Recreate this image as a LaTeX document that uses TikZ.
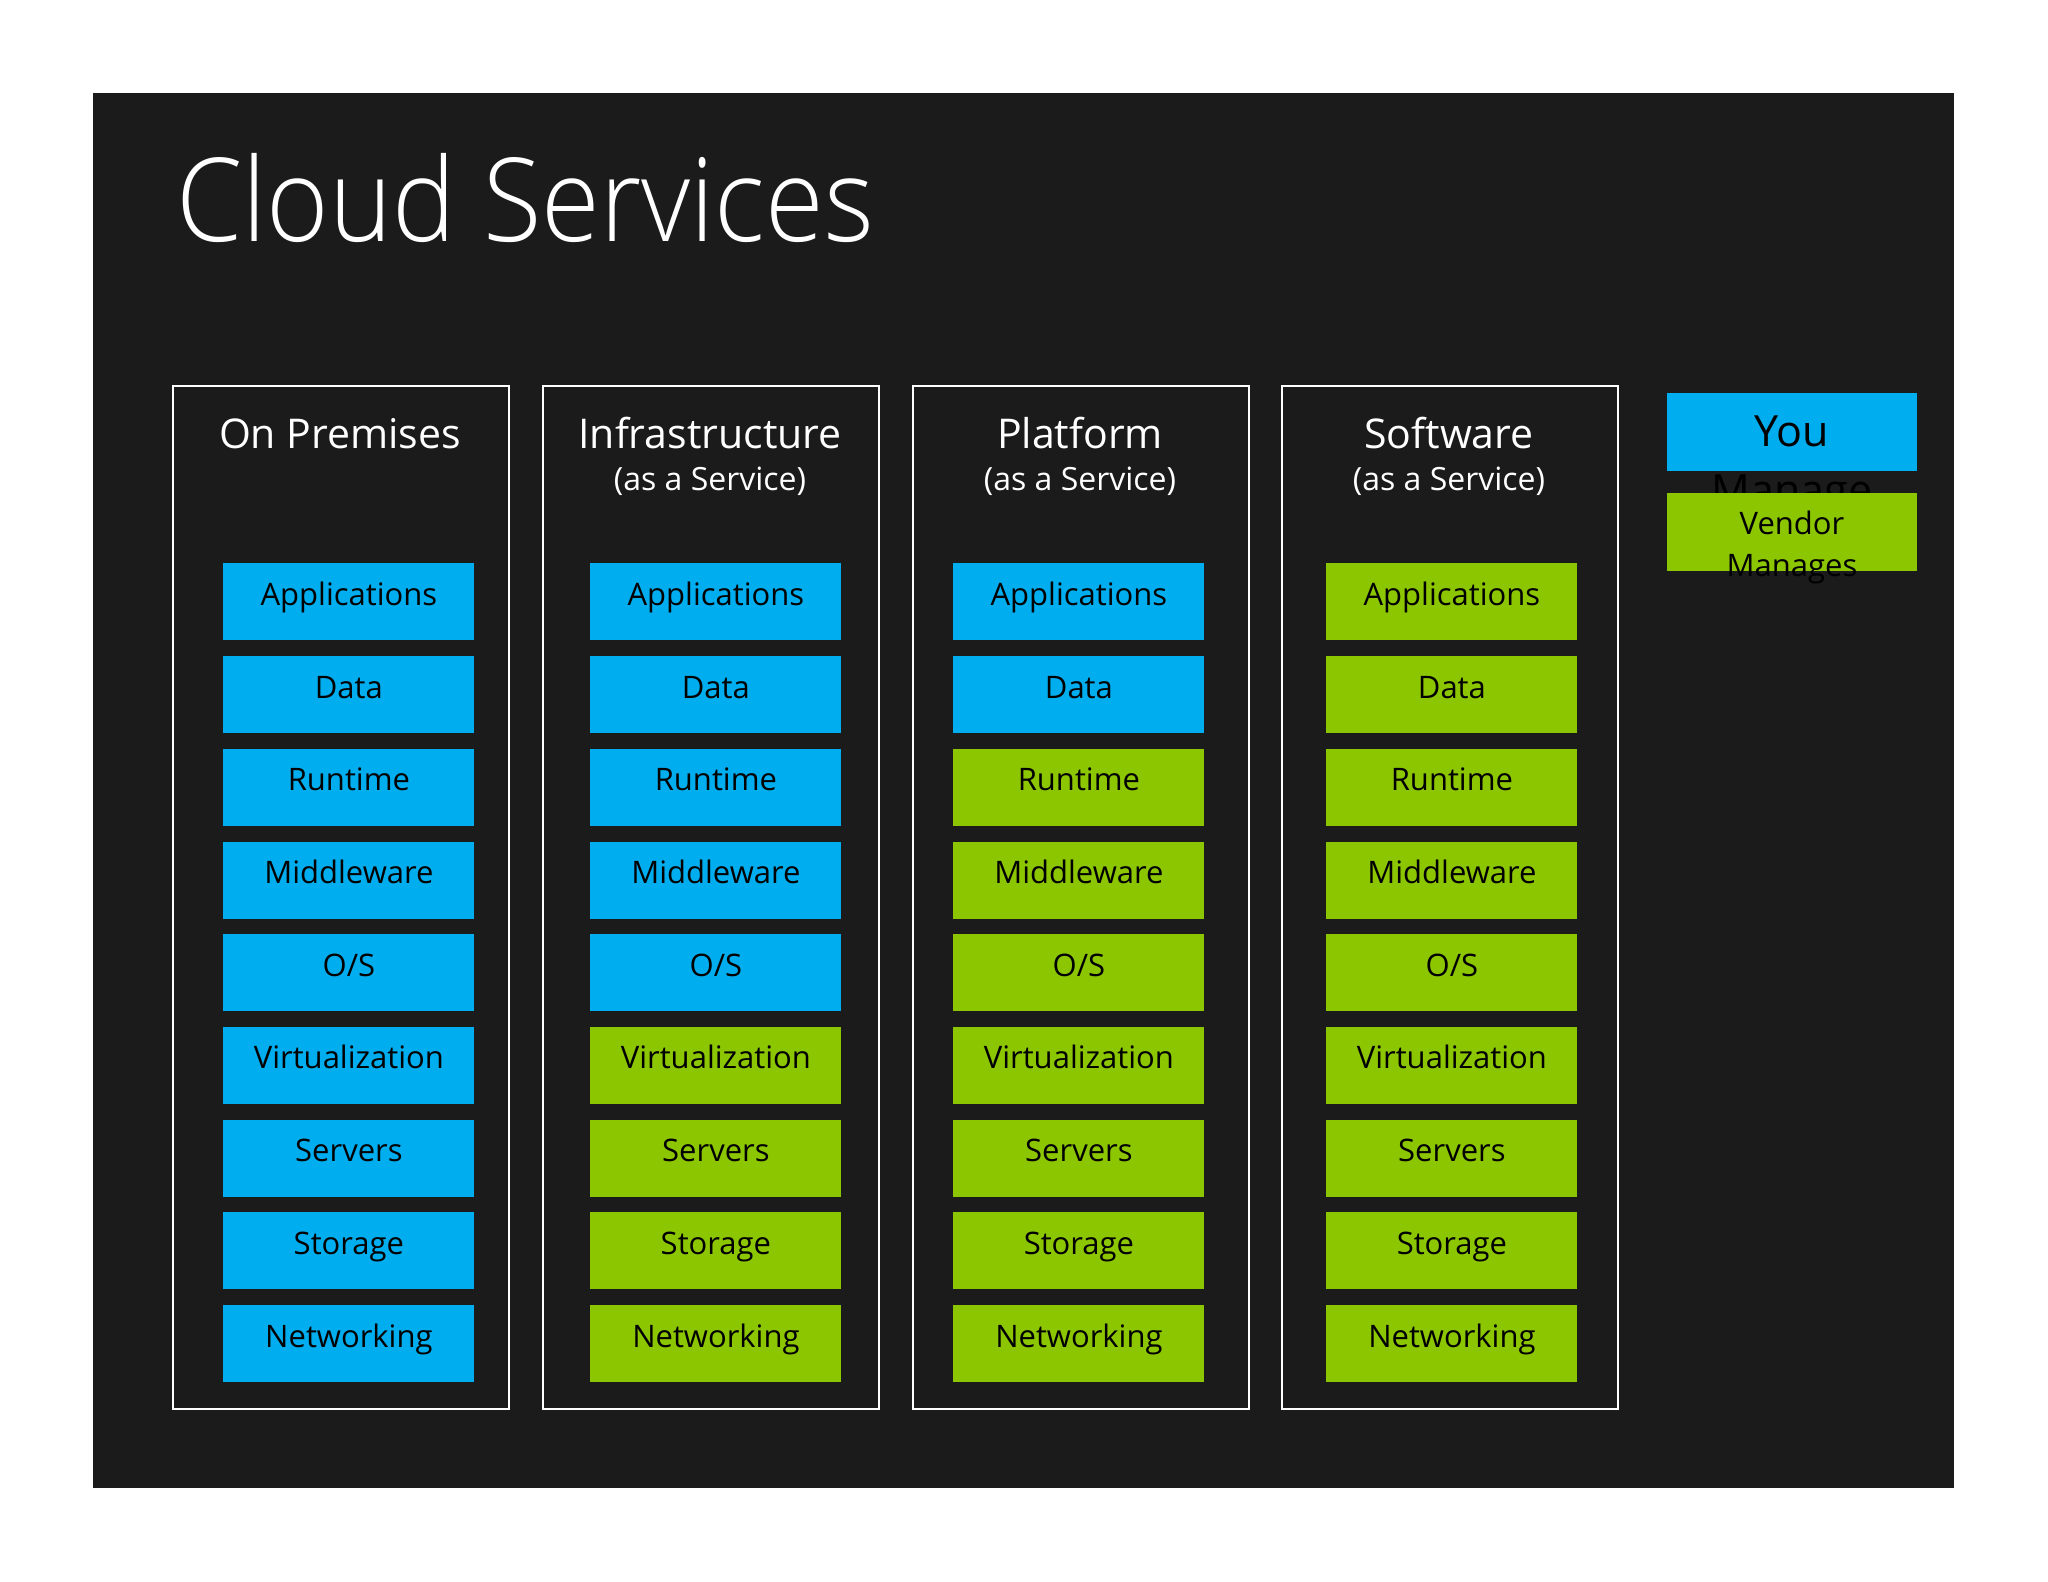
\documentclass[tikz,border=0pt]{standalone}
\usepackage{fontspec}
\setmainfont{Open Sans}
\IfFontExistsTF{Open Sans Light}{\newfontfamily\titlefont{Open Sans Light}}{\newfontfamily\titlefont{Open Sans}}
\definecolor{bg}{RGB}{27,27,27}
\definecolor{cblue}{RGB}{0,174,239}
\definecolor{cgreen}{RGB}{140,198,0}
\begin{document}
\begin{tikzpicture}[x=0.5pt,y=-0.5pt,
  layer/.style={rectangle, inner sep=0pt, minimum width=125.5pt, minimum height=38.5pt,
    anchor=north west, text height=8pt, text depth=4.5pt,
    font=\fontsize{15.5}{18}\selectfont, text=black},
  colframe/.style={rectangle, draw=white, line width=1pt, inner sep=0pt,
    minimum width=168pt, minimum height=511.5pt, anchor=north west},
  coltitle/.style={anchor=base, inner sep=0pt, text=white, font=\fontsize{20.5}{24}\selectfont},
  colsub/.style={anchor=base, inner sep=0pt, text=white, font=\fontsize{16}{19}\selectfont},
  legbox/.style={rectangle, inner sep=0pt, minimum width=125pt, minimum height=39pt, anchor=north west},
  legbig/.style={anchor=base, inner sep=0pt, text=black, font=\fontsize{21.5}{24}\selectfont},
  legsmall/.style={anchor=base, inner sep=0pt, text=black, font=\fontsize{15.5}{18}\selectfont},
  titletext/.style={anchor=base west, inner sep=0pt, text=white, font=\titlefont\fontsize{58}{66}\selectfont}
]
\useasboundingbox (0,0) rectangle (2048,1582);
\fill[white] (0,0) rectangle (2048,1582);
\fill[bg] (93,93) rectangle (1954,1488);

\node[titletext] (title) at (176,242) {\scalebox{0.92}[1]{Cloud Services}};

% column frames
\node[colframe] (f1) at (172,385) {};
\node[colframe] (f2) at (542,385) {};
\node[colframe] (f3) at (912,385) {};
\node[colframe] (f4) at (1281,385) {};

\node[coltitle] (t1) at (340,449) {On Premises};
\node[coltitle] (t2) at (710,449) {Infrastructure};
\node[colsub]   (s2) at (710,491) {(as a Service)};
\node[coltitle] (t3) at (1080,449) {Platform};
\node[colsub]   (s3) at (1080,491) {(as a Service)};
\node[coltitle] (t4) at (1449,449) {Software};
\node[colsub]   (s4) at (1449,491) {(as a Service)};

% layers
\foreach \cx/\nb/\cn in {223/9/1, 590/5/2, 953/2/3, 1326/0/4} {
  \foreach \lab [count=\i from 0] in {Applications, Data, Runtime, Middleware, O/S, Virtualization, Servers, Storage, Networking} {
    \ifnum\i<\nb \def\fc{cblue}\else\def\fc{cgreen}\fi
    \node[layer, fill=\fc] (c\cn r\i) at (\cx, {563+\i*92.7}) {\lab};
  }
}

% legend
\node[legbox, fill=cblue] (youbox) at (1667,393) {};
\node[legbig] (youtxt) at (1792,447) {You};
\node[legbig] (mantxt) at (1792,506) {Manage};
\node[legbox, fill=cgreen] (venbox) at (1667,493) {};
\node[legsmall] (ventxt) at (1792,535) {Vendor};
\node[legsmall] (mgstxt) at (1792,576) {Manages};
\end{tikzpicture}
\end{document}
